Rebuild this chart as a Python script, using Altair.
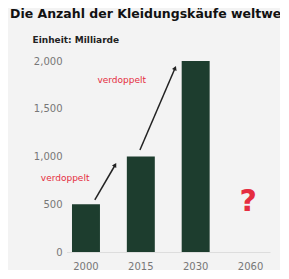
import altair as alt
import pandas as pd

# ---- data ----
years = ["2000", "2015", "2030", "2060"]
purchases = [500, 1000, 2000, None]   # Milliarde

# annotation arrows (x in band-index units, y in data units)
arrow_x_start = [0.16, 0.98]
arrow_y_start = [545, 1068]
arrow_x_end = [0.53, 1.62]
arrow_y_end = [911, 1927]
arrow_angle = [30, 23]

label_text = ["verdoppelt", "verdoppelt"]
label_x = [-0.38, 0.65]
label_y = [775, 1801]

q_text = ["?"]
q_x = [2.95]
q_y = [524]

FONT = "DejaVu Sans"
BAR_COLOR = "#1d3d2e"
RED = "#e52d40"

bars_df = pd.DataFrame({"year": years, "value": purchases})
arrows_df = pd.DataFrame({"x": arrow_x_start, "y": arrow_y_start,
                          "x2": arrow_x_end, "y2": arrow_y_end,
                          "angle": arrow_angle})
labels_df = pd.DataFrame({"x": label_x, "y": label_y, "t": label_text})
q_df = pd.DataFrame({"x": q_x, "y": q_y, "t": q_text})

yscale = alt.Scale(domain=[0, 2000], nice=False)
xq = alt.Scale(domain=[-0.355, 3.345], nice=False, zero=False)

bars = alt.Chart(bars_df).mark_bar(color=BAR_COLOR).encode(
    x=alt.X("year:N", sort=years,
            scale=alt.Scale(domain=years, paddingInner=0.49, paddingOuter=0.1),
            axis=alt.Axis(title=None, labelAngle=0, ticks=False, domainColor="#dddddd",
                          labelColor="#777777", labelFontSize=10, labelFont=FONT,
                          labelPadding=9)),
    y=alt.Y("value:Q", scale=yscale,
            axis=alt.Axis(values=[0, 500, 1000, 1500, 2000], format=",.0f", grid=False,
                          ticks=False, domain=False, labelColor="#777777",
                          labelFontSize=10, labelFont=FONT, labelPadding=4.5,
                          title="Einheit: Milliarde", titleAngle=0, titleAlign="left",
                          titleBaseline="alphabetic", titleX=-34.5, titleY=-19,
                          titleFontSize=9, titleFontWeight="bold", titleFont=FONT,
                          titleColor="#222222")),
)

rules = alt.Chart(arrows_df).mark_rule(color="#222222", strokeWidth=1.5).encode(
    x=alt.X("x:Q", scale=xq, axis=None),
    x2="x2:Q",
    y=alt.Y("y:Q", scale=yscale),
    y2="y2:Q",
)

heads = alt.Chart(arrows_df).mark_point(shape="triangle-up", filled=True,
                                        color="#222222", size=25, opacity=1).encode(
    x=alt.X("x2:Q", scale=xq, axis=None),
    y=alt.Y("y2:Q", scale=yscale),
    angle=alt.Angle("angle:Q", scale=None),
)

labels = alt.Chart(labels_df).mark_text(color=RED, fontSize=9, font=FONT,
                                        baseline="middle").encode(
    x=alt.X("x:Q", scale=xq, axis=None),
    y=alt.Y("y:Q", scale=yscale),
    text="t:N",
)

qmark = alt.Chart(q_df).mark_text(color=RED, fontSize=30, font=FONT,
                                  fontWeight="bold", baseline="middle").encode(
    x=alt.X("x:Q", scale=xq, axis=None),
    y=alt.Y("y:Q", scale=yscale),
    text="t:N",
)

chart = alt.layer(bars, rules, heads, labels, qmark).resolve_scale(
    x="independent"
).properties(
    width=203.5,
    height=191,
    autosize=alt.AutoSizeParams(type="none"),
    padding={"left": 58.5, "top": 53, "right": 10, "bottom": 18},
    background="#f3f3f3",
    title=alt.Title("Die Anzahl der Kleidungskäufe weltweit", anchor="start",
                    fontSize=12.5, fontWeight="bold", font=FONT, color="#111111",
                    baseline="alphabetic", dx=-22, offset=4.5),
).configure_view(stroke=None)

chart.save("out.html", embed_options={"renderer": "svg", "actions": False})
